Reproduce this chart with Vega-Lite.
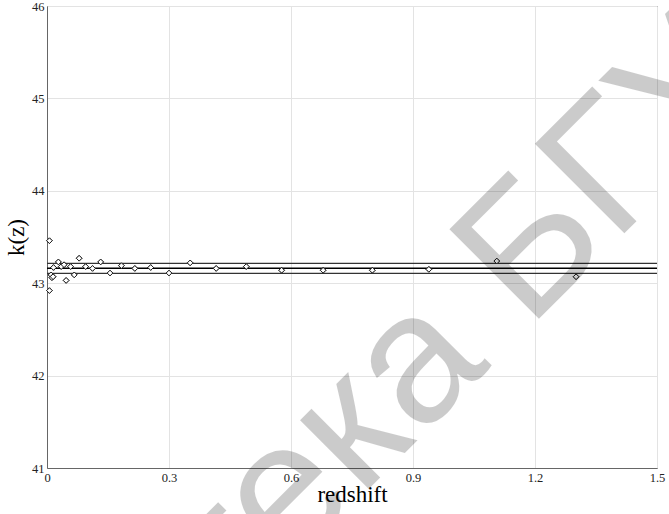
{
  "$schema": "https://vega.github.io/schema/vega-lite/v6.json",
  "width": 610,
  "height": 462,
  "autosize": {"type": "none"},
  "padding": {"left": 47, "top": 6, "right": 12, "bottom": 46},
  "background": "white",
  "config": {
    "view": {"stroke": "#333", "strokeWidth": 1},
    "axis": {
      "labelFont": "Liberation Serif",
      "titleFont": "Liberation Serif",
      "labelFontSize": 12,
      "labelColor": "#222",
      "titleColor": "#000",
      "titleFontWeight": "normal",
      "gridColor": "#e3e3e3",
      "gridWidth": 1,
      "domainColor": "#666",
      "ticks": false,
      "labelFlush": false
    }
  },
  "datasets": {
    "points": [
      {"z": 0.006, "k": 43.46},
      {"z": 0.006, "k": 42.92},
      {"z": 0.010, "k": 43.09},
      {"z": 0.012, "k": 43.06},
      {"z": 0.015, "k": 43.07},
      {"z": 0.016, "k": 43.17},
      {"z": 0.028, "k": 43.23},
      {"z": 0.035, "k": 43.18},
      {"z": 0.042, "k": 43.20},
      {"z": 0.047, "k": 43.03},
      {"z": 0.058, "k": 43.18},
      {"z": 0.067, "k": 43.09},
      {"z": 0.079, "k": 43.27},
      {"z": 0.095, "k": 43.18},
      {"z": 0.112, "k": 43.16},
      {"z": 0.132, "k": 43.23},
      {"z": 0.155, "k": 43.11},
      {"z": 0.183, "k": 43.19},
      {"z": 0.216, "k": 43.16},
      {"z": 0.255, "k": 43.17},
      {"z": 0.300, "k": 43.11},
      {"z": 0.352, "k": 43.22},
      {"z": 0.416, "k": 43.16},
      {"z": 0.490, "k": 43.18},
      {"z": 0.577, "k": 43.14},
      {"z": 0.679, "k": 43.14},
      {"z": 0.800, "k": 43.14},
      {"z": 0.939, "k": 43.15},
      {"z": 1.106, "k": 43.24},
      {"z": 1.301, "k": 43.07}
    ],
    "outer": [{"k": 43.215}, {"k": 43.107}],
    "mid": [{"k": 43.161}],
    "mark": [{"label": "Библиотека БГУ"}]
  },
  "layer": [
    {
      "data": {"name": "points"},
      "mark": {"type": "point", "shape": "diamond", "filled": true, "fill": "white", "stroke": "#222", "strokeWidth": 1, "size": 32, "opacity": 1},
      "encoding": {
        "x": {
          "field": "z",
          "type": "quantitative",
          "scale": {"domain": [0, 1.5], "nice": false, "zero": false},
          "axis": {
            "title": "redshift",
            "titleFontSize": 23,
            "titleFont": "Liberation Serif",
            "labelFont": "Liberation Serif",
            "labelFontSize": 12.5,
            "values": [0, 0.3, 0.6, 0.9, 1.2, 1.5],
            "format": "~g",
            "labelPadding": 3,
            "titlePadding": 0
          }
        },
        "y": {
          "field": "k",
          "type": "quantitative",
          "scale": {"domain": [41, 46], "nice": false, "zero": false},
          "axis": {
            "title": "k(z)",
            "titleFontSize": 23,
            "titleFont": "Liberation Serif",
            "labelFont": "Liberation Serif",
            "labelFontSize": 12.5,
            "values": [41, 42, 43, 44, 45, 46],
            "format": "~g",
            "labelPadding": 3,
            "titlePadding": 3
          }
        }
      }
    },
    {
      "data": {"name": "outer"},
      "mark": {"type": "rule", "color": "#333", "strokeWidth": 1.2},
      "encoding": {"y": {"field": "k", "type": "quantitative"}}
    },
    {
      "data": {"name": "mid"},
      "mark": {"type": "rule", "color": "#000", "strokeWidth": 1.6},
      "encoding": {"y": {"field": "k", "type": "quantitative"}}
    },
    {
      "data": {"name": "points"},
      "mark": {"type": "point", "shape": "diamond", "filled": true, "fill": "white", "stroke": "#222", "strokeWidth": 1, "size": 32, "opacity": 1},
      "encoding": {
        "x": {"field": "z", "type": "quantitative"},
        "y": {"field": "k", "type": "quantitative"}
      }
    },
    {
      "data": {"name": "mark"},
      "mark": {
        "type": "text",
        "font": "Liberation Sans",
        "fontSize": 184,
        "angle": 315,
        "align": "right",
        "baseline": "alphabetic",
        "color": "#000",
        "opacity": 0.2,
        "clip": false
      },
      "encoding": {
        "x": {"datum": 1.77, "type": "quantitative"},
        "y": {"datum": 45.08, "type": "quantitative"},
        "text": {"field": "label"}
      }
    }
  ]
}
